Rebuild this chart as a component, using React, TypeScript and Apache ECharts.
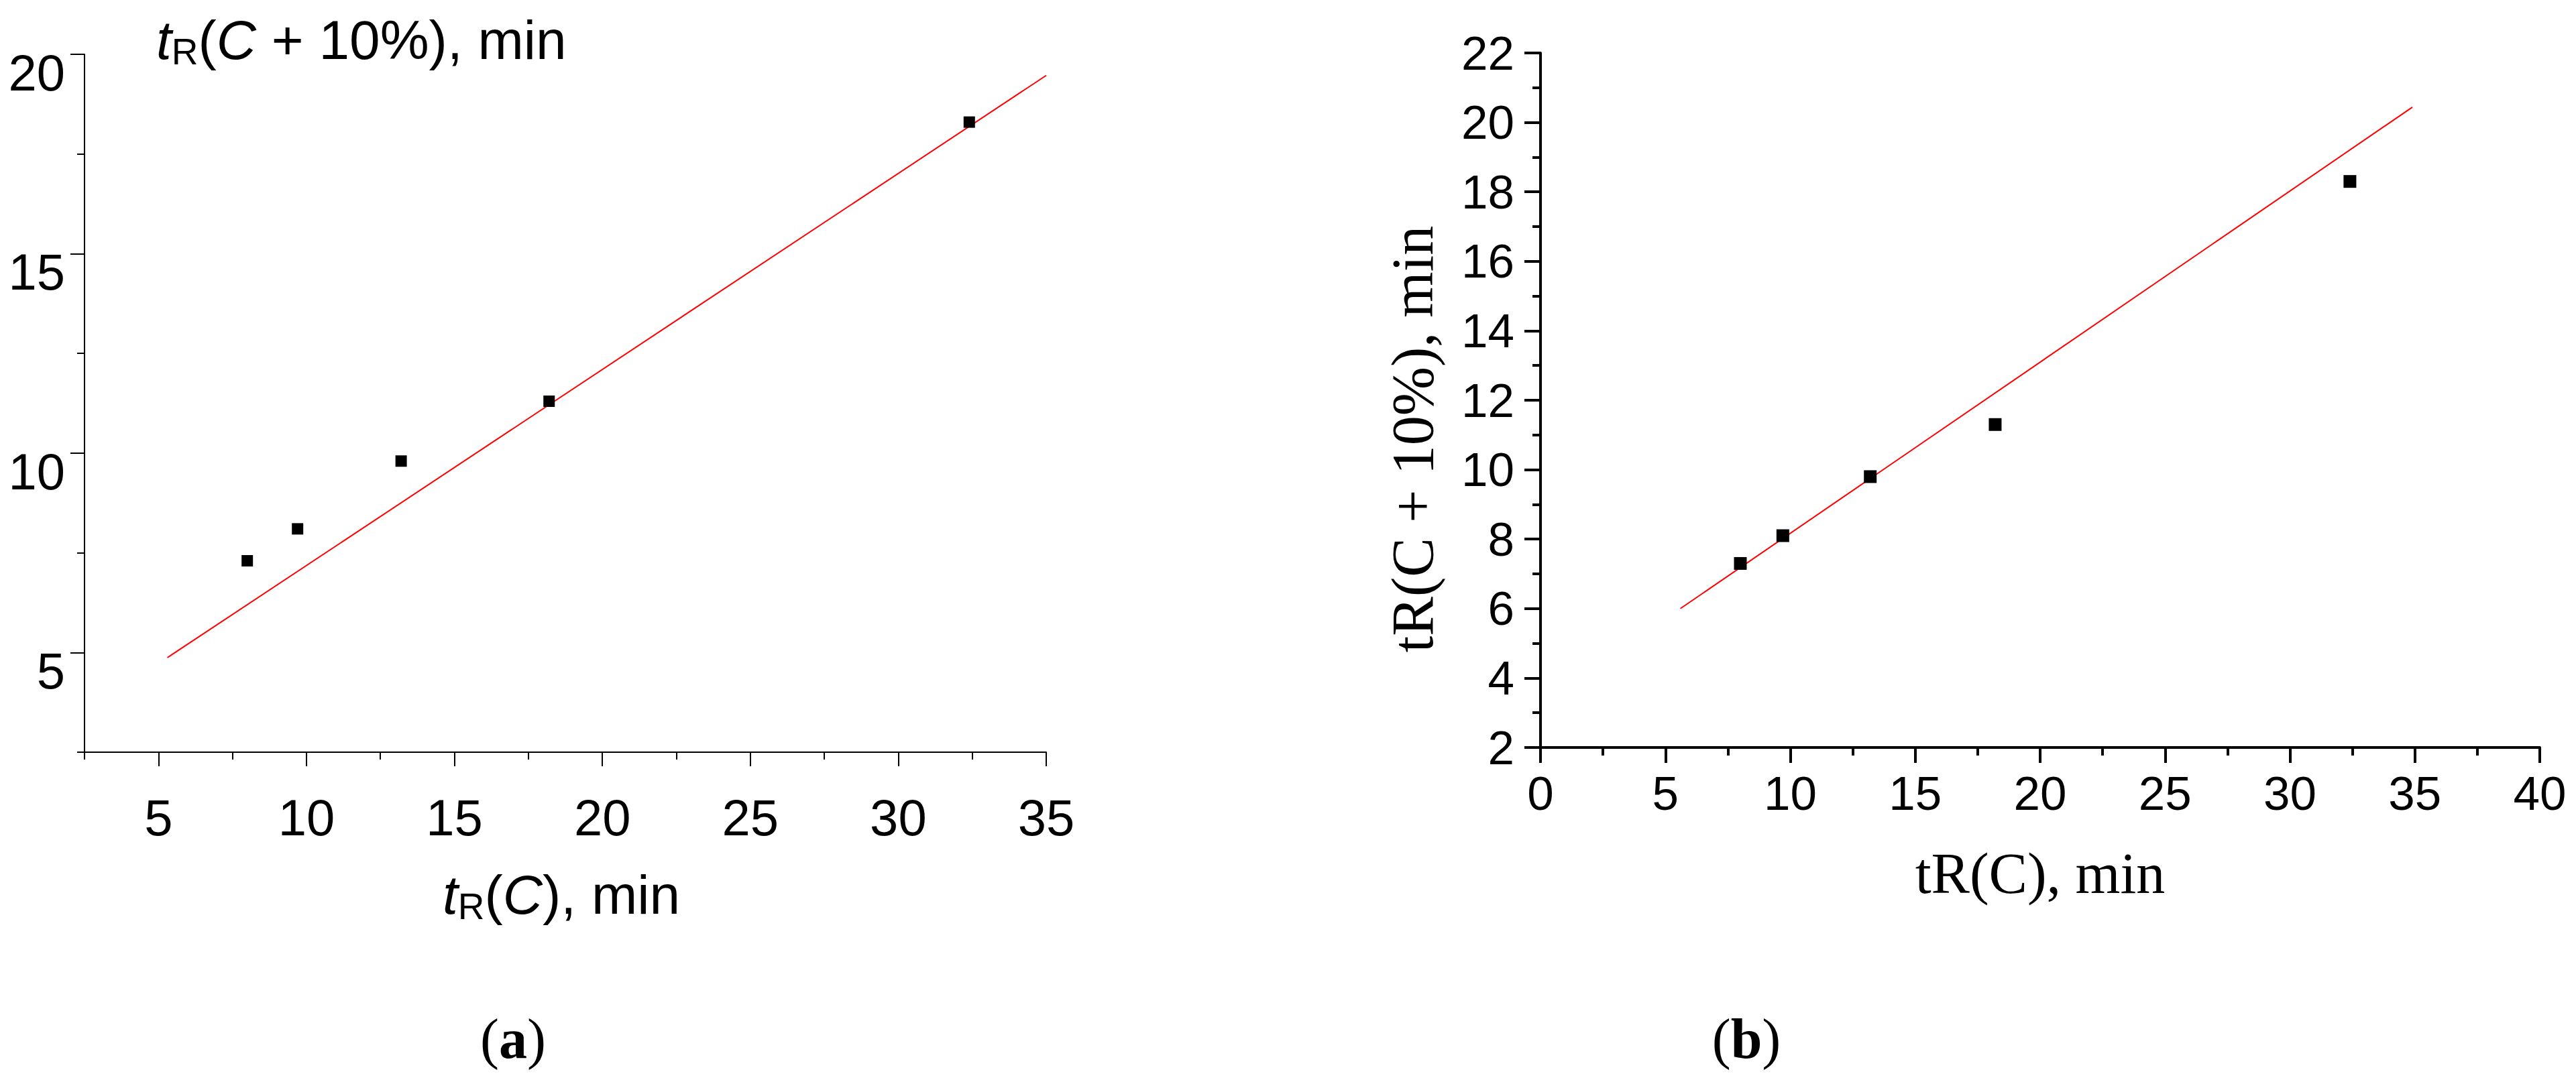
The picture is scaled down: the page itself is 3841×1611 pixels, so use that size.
import React, { useEffect, useRef } from 'react';
import * as echarts from 'echarts';

// ---- data ----
const tR_C = [8.0, 9.7, 13.2, 18.2, 32.4];
const tR_C10 = [7.3, 8.1, 9.8, 11.3, 18.3];

// fitted straight lines (end points)
const fitA_x = [5.3, 35.0];
const fitA_y = [4.87, 19.47];
const fitB_x = [5.6, 34.9];
const fitB_y = [6.0, 20.44];

// tick values for panel (a)
const aXMajor = [5, 10, 15, 20, 25, 30, 35];
const aXMinor = [2.5, 7.5, 12.5, 17.5, 22.5, 27.5, 32.5];
const aYMajor = [5, 10, 15, 20];
const aYMinor = [2.5, 7.5, 12.5, 17.5];

// texts
const titleAY = '{i|t}{s|R}{n|(}{i|C}{n| + 10%), min}';
const titleAX = '{i|t}{s|R}{n|(}{i|C}{n|), min}';
const titleBY = 'tR(C + 10%), min';
const titleBX = 'tR(C), min';
const capA = '{p|(}{b|a}{p|)}';
const capB = '{p|(}{b|b}{p|)}';

const SANS = '"Liberation Sans", Arial, sans-serif';
const SERIF = '"Liberation Serif", "Times New Roman", serif';

export default function App() {
  const ref = useRef<HTMLDivElement>(null);

  useEffect(() => {
    document.body.style.margin = '0';
    const chart = echarts.init(ref.current!, null, { renderer: 'svg' });

    const richA = {
      i: { fontStyle: 'italic', fontSize: 82, fontFamily: SANS, fill: '#000', lineHeight: 90 },
      s: { fontSize: 55, fontFamily: SANS, fill: '#000', lineHeight: 66, verticalAlign: 'bottom' },
      n: { fontSize: 82, fontFamily: SANS, fill: '#000', lineHeight: 90 },
    };
    const richCap = {
      p: { fontSize: 84, fontFamily: SERIF, fill: '#000', lineHeight: 92 },
      b: { fontSize: 84, fontFamily: SERIF, fontWeight: 'bold', fill: '#000', lineHeight: 92 },
    };

    const blackA = { color: '#000', width: 2 };
    const blackB = { color: '#000', width: 4 };

    const option: any = {
      animation: false,
      backgroundColor: '#fff',
      textStyle: { fontFamily: SANS },
      grid: [
        { left: 126, top: 81, width: 1434, height: 1041 },
        { left: 2297, top: 79, width: 1490, height: 1036 },
      ],
      xAxis: [
        {
          gridIndex: 0, type: 'value', min: 2.5, max: 35, position: 'bottom', offset: 0,
          axisLine: { show: true, onZero: false, lineStyle: blackA },
          axisTick: { show: true, customValues: aXMajor, length: 21, lineStyle: blackA },
          axisLabel: { show: true, customValues: aXMajor, margin: 97, verticalAlign: 'middle', fontSize: 76, color: '#000', fontFamily: SANS },
          splitLine: { show: false },
        },
        {
          gridIndex: 0, type: 'value', min: 2.5, max: 35, position: 'bottom', offset: 0,
          axisLine: { show: false, onZero: false },
          axisTick: { show: true, customValues: aXMinor, length: 11, lineStyle: blackA },
          axisLabel: { show: false },
          splitLine: { show: false },
        },
        {
          gridIndex: 1, type: 'value', min: 0, max: 40, interval: 5, position: 'bottom',
          axisLine: { show: true, onZero: false, lineStyle: blackB },
          axisTick: { show: true, length: 23, lineStyle: blackB },
          minorTick: { show: true, splitNumber: 2, length: 12, lineStyle: blackB },
          axisLabel: { show: true, margin: 68, verticalAlign: 'middle', fontSize: 71, color: '#000', fontFamily: SANS },
          splitLine: { show: false },
          minorSplitLine: { show: false },
        },
      ],
      yAxis: [
        {
          gridIndex: 0, type: 'value', min: 2.5, max: 20, position: 'left', offset: 0,
          axisLine: { show: true, onZero: false, lineStyle: blackA },
          axisTick: { show: true, customValues: aYMajor, length: 21, lineStyle: blackA },
          axisLabel: { show: true, customValues: aYMajor, margin: 29, verticalAlign: 'top', lineHeight: 55, fontSize: 76, color: '#000', fontFamily: SANS },
          splitLine: { show: false },
        },
        {
          gridIndex: 0, type: 'value', min: 2.5, max: 20, position: 'left', offset: 0,
          axisLine: { show: false, onZero: false },
          axisTick: { show: true, customValues: aYMinor, length: 11, lineStyle: blackA },
          axisLabel: { show: false },
          splitLine: { show: false },
        },
        {
          gridIndex: 1, type: 'value', min: 2, max: 22, interval: 2, position: 'left',
          axisLine: { show: true, onZero: false, lineStyle: blackB },
          axisTick: { show: true, length: 24, lineStyle: blackB },
          minorTick: { show: true, splitNumber: 2, length: 12, lineStyle: blackB },
          axisLabel: { show: true, margin: 39, verticalAlign: 'middle', fontSize: 71, color: '#000', fontFamily: SANS },
          splitLine: { show: false },
          minorSplitLine: { show: false },
        },
      ],
      series: [
        {
          type: 'line', xAxisIndex: 0, yAxisIndex: 0, z: 2, silent: true,
          data: fitA_x.map((x, i) => [x, fitA_y[i]]),
          symbol: 'none', lineStyle: { color: '#ff0000', width: 2 },
        },
        {
          type: 'scatter', xAxisIndex: 0, yAxisIndex: 0, z: 3,
          data: tR_C.map((x, i) => [x, tR_C10[i]]),
          symbol: 'rect', symbolSize: 17, itemStyle: { color: '#000', opacity: 1 },
        },
        {
          type: 'line', xAxisIndex: 2, yAxisIndex: 2, z: 2, silent: true,
          data: fitB_x.map((x, i) => [x, fitB_y[i]]),
          symbol: 'none', lineStyle: { color: '#ff0000', width: 2 },
        },
        {
          type: 'scatter', xAxisIndex: 2, yAxisIndex: 2, z: 3,
          data: tR_C.map((x, i) => [x, tR_C10[i]]),
          symbol: 'rect', symbolSize: 19, itemStyle: { color: '#000', opacity: 1 },
        },
      ],
      graphic: [
        {
          type: 'text', x: 233, y: 59,
          style: { text: titleAY, rich: richA, textAlign: 'left', textVerticalAlign: 'middle', fill: '#000' },
        },
        {
          type: 'text', x: 660, y: 1334,
          style: { text: titleAX, rich: richA, textAlign: 'left', textVerticalAlign: 'middle', fill: '#000' },
        },
        {
          type: 'text', x: 2106, y: 655, rotation: Math.PI / 2,
          style: { text: titleBY, fontSize: 88, fontFamily: SERIF, fill: '#000', textAlign: 'center', textVerticalAlign: 'middle' },
        },
        {
          type: 'text', x: 3042, y: 1303,
          style: { text: titleBX, fontSize: 86, fontFamily: SERIF, fill: '#000', textAlign: 'center', textVerticalAlign: 'middle' },
        },
        {
          type: 'text', x: 765, y: 1549,
          style: { text: capA, rich: richCap, textAlign: 'center', textVerticalAlign: 'middle', fill: '#000' },
        },
        {
          type: 'text', x: 2604, y: 1549,
          style: { text: capB, rich: richCap, textAlign: 'center', textVerticalAlign: 'middle', fill: '#000' },
        },
      ],
    };

    chart.setOption(option);
    return () => chart.dispose();
  }, []);

  return (
    <div
      ref={ref}
      style={{ position: 'absolute', left: 0, top: 0, width: 3841, height: 1611, background: '#fff' }}
    />
  );
}
